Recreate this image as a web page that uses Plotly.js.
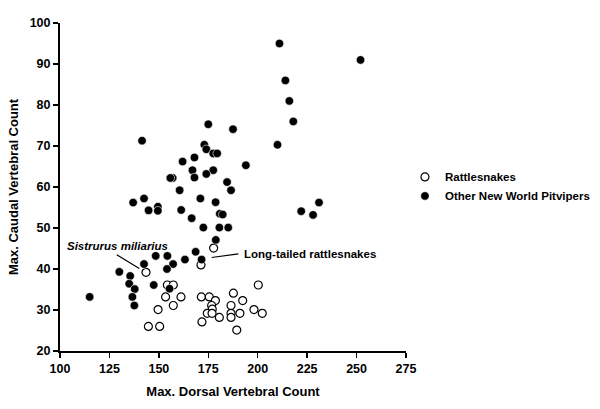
<!DOCTYPE html>
<html>
<head>
<meta charset="utf-8">
<script src="https://cdn.plot.ly/plotly-3.0.1.min.js"></script>
<style>html,body{margin:0;padding:0;background:#fff;}#chart{width:600px;height:409px;}</style>
</head>
<body>
<div id="chart"></div>
<script>
// Rattlesnakes (open circles): max dorsal / max caudal vertebral counts
const rattleDorsal = [143.5, 177.7, 171.3, 154.3, 157.3, 153.4, 161.2, 157.3, 149.6, 144.7, 150.4,
  171.5, 175.5, 178.6, 176.7, 177.0, 174.5, 176.9, 180.6, 171.8, 187.7, 192.4, 186.5, 186.5,
  191.0, 186.5, 198.1, 202.3, 200.3, 189.4];
const rattleCaudal = [39.2, 45.1, 41.0, 36.1, 36.1, 33.2, 33.2, 31.1, 30.1, 26.0, 26.0,
  33.2, 33.2, 32.3, 31.1, 30.2, 29.2, 29.2, 28.2, 27.1, 34.1, 32.3, 31.1, 29.2,
  29.2, 28.2, 30.1, 29.2, 36.1, 25.1];

// Other New World pitvipers (filled circles)
const otherDorsal = [211, 252, 214, 216, 218, 210, 175, 187.5, 194, 173, 174, 177.5, 179.5,
  162, 168, 167, 177.5, 168, 174, 184.5, 186.5, 171, 178.7, 160.5, 161.3, 166.6, 180.8, 182.3,
  222, 228, 231, 141.5, 157, 155.8, 137, 142.5, 149.5, 149.5, 144.8, 172.5, 180.6, 185.1,
  178.8, 168.6, 163.2, 171.6, 148.4, 154.3, 157.2, 154.1, 142.5, 130, 135.5, 135, 137.8,
  136.6, 137.6, 147.4, 155.4, 115];
const otherCaudal = [95, 91, 86, 81, 76, 70.3, 75.3, 74.1, 65.3, 70.3, 69.2, 68.2, 68.2,
  66.2, 67.2, 64.1, 64.1, 62.3, 63.2, 61.2, 59.2, 57.2, 56.3, 59.2, 54.4, 52.4, 53.5, 53.3,
  54.1, 53.2, 56.2, 71.3, 62.2, 62.2, 56.2, 57.2, 55.2, 54.2, 54.3, 50.1, 50.1, 50.1,
  47.1, 44.2, 42.3, 42.3, 43.2, 43.2, 41.2, 40.0, 41.2, 39.3, 38.3, 36.4, 35.1,
  33.2, 31.1, 36.1, 35.2, 33.2];

const seriesNames = ['Rattlesnakes', 'Other New World Pitvipers'];
const xTitle = 'Max. Dorsal Vertebral Count';
const yTitle = 'Max. Caudal Vertebral Count';
const labelSistrurus = 'Sistrurus miliarius';
const labelLongTailed = 'Long-tailed rattlesnakes';

const FONT = 'Liberation Sans, Arial, sans-serif';

const traces = [
  {
    type: 'scatter', mode: 'markers', name: seriesNames[0],
    x: rattleDorsal, y: rattleCaudal,
    marker: {symbol: 'circle', size: 8, color: '#ffffff', line: {color: '#000000', width: 1.2}},
    cliponaxis: false
  },
  {
    type: 'scatter', mode: 'markers', name: seriesNames[1],
    x: otherDorsal, y: otherCaudal,
    marker: {symbol: 'circle', size: 8.5, color: '#000000', line: {color: '#ffffff', width: 0.6}},
    cliponaxis: false
  }
];

const axisCommon = {
  showgrid: false, zeroline: false, showline: true, linecolor: '#000', linewidth: 2,
  ticks: 'outside', ticklen: 5, tickwidth: 1.5, tickcolor: '#000',
  tickfont: {family: FONT, size: 12.5, color: '#000', weight: 'bold'},
  fixedrange: true, automargin: false
};

const layout = {
  width: 600, height: 409,
  margin: {l: 60, r: 194, t: 23, b: 58, autoexpand: false},
  paper_bgcolor: '#fff', plot_bgcolor: '#fff',
  showlegend: true,
  legend: {
    x: 0.997, y: 0.575, xanchor: 'left', yanchor: 'top',
    font: {family: FONT, size: 11.5, color: '#000', weight: 'bold'},
    bgcolor: 'rgba(0,0,0,0)', borderwidth: 0, itemwidth: 30, tracegroupgap: 0
  },
  xaxis: Object.assign({}, axisCommon, {
    range: [100, 275], tick0: 100, dtick: 25,
    title: {text: xTitle, standoff: 12, font: {family: FONT, size: 13, color: '#000', weight: 'bold'}}
  }),
  yaxis: Object.assign({}, axisCommon, {
    range: [20, 100], tick0: 20, dtick: 10,
    title: {text: yTitle, standoff: 8, font: {family: FONT, size: 13, color: '#000', weight: 'bold'}}
  }),
  shapes: [
    {type: 'line', xref: 'x', yref: 'y', x0: 128.7, y0: 43.5, x1: 140.1, y1: 40.1, line: {color: '#000', width: 1.2}},
    {type: 'line', xref: 'x', yref: 'y', x0: 176.7, y0: 42.8, x1: 190.2, y1: 43.7, line: {color: '#000', width: 1.2}}
  ],
  annotations: [
    {xref: 'x', yref: 'y', x: 129.3, y: 45.6, xanchor: 'center', yanchor: 'middle', showarrow: false,
     text: '<i>' + labelSistrurus + '</i>', font: {family: FONT, size: 11.5, color: '#000', weight: 'bold'}},
    {xref: 'x', yref: 'y', x: 192.3, y: 43.6, xanchor: 'left', yanchor: 'middle', showarrow: false,
     text: labelLongTailed, font: {family: FONT, size: 11.5, color: '#000', weight: 'bold'}}
  ]
};

Plotly.newPlot('chart', traces, layout, {staticPlot: true, displayModeBar: false});
</script>
</body>
</html>
